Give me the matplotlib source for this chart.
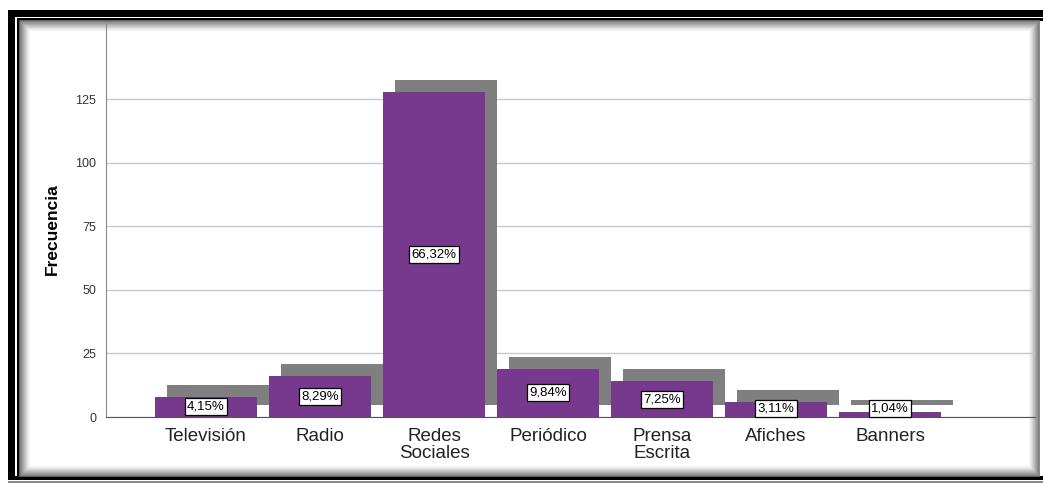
import numpy as np
import matplotlib
matplotlib.use("Agg")
import matplotlib.pyplot as plt
from matplotlib.patches import Rectangle

plt.rcParams["font.family"] = ["Liberation Sans", "DejaVu Sans"]

categories = ["Televisión", "Radio", "Redes\nSociales", "Periódico",
              "Prensa\nEscrita", "Afiches", "Banners"]
frecuencia = [8, 16, 128, 19, 14, 6, 2]
porcentajes = ["4,15%", "8,29%", "66,32%", "9,84%", "7,25%", "3,11%", "1,04%"]
yticks = [0, 25, 50, 75, 100, 125]

PURPLE = "#76398d"
SHADOW = "#7f7f7f"
W, H = 1043, 483

fig = plt.figure(figsize=(W / 100, H / 100), dpi=100)
fig.patch.set_facecolor("white")

# picture frame (SPSS output look) drawn in pixel coords on an overlay axes
bg = fig.add_axes([0, 0, 1, 1], zorder=-1)
bg.set_xlim(0, W)
bg.set_ylim(H, 0)
bg.axis("off")
bg.add_patch(Rectangle((8, 10), W - 8, 7, color="black", lw=0))
bg.add_patch(Rectangle((8, 10), 7, 470, color="black", lw=0))
bg.add_patch(Rectangle((17, 18), W - 17, 2.5, color="black", lw=0))
bg.add_patch(Rectangle((17, 18), 2.5, 460, color="black", lw=0))
bg.add_patch(Rectangle((8, 476), W - 8, 4, color="black", lw=0))
bg.add_patch(Rectangle((8, 481), W - 8, 2, color="#888888", lw=0))
for i in range(10):
    g = 0.45 + 0.055 * i
    bg.add_patch(Rectangle((20 + i, 21 + i), W - 24 - 2 * i, 455 - 2 * i,
                           fill=False, ec=(g, g, g), lw=1.2))

ax = fig.add_axes([106 / W, 1 - 417 / H, (1035 - 106) / W, (417 - 23) / H])
x = np.arange(len(categories))
bw = 0.9
dx, dy = 0.105, 4.7

ax.bar(x + dx, frecuencia, width=bw, bottom=dy, color=SHADOW, lw=0, zorder=2)
ax.bar(x, frecuencia, width=bw, color=PURPLE, lw=0, zorder=3)

for xi, v, p in zip(x, frecuencia, porcentajes):
    ax.text(xi, max(v / 2, 3.2), p, ha="center", va="center", fontsize=9.5,
            zorder=5,
            bbox=dict(boxstyle="square,pad=0.18", fc="white", ec="black", lw=0.9))

ax.set_xlim(-0.877, 7.27)
ax.set_ylim(0, 155)
ax.set_yticks(yticks)
ax.set_xticks(x)
ax.set_xticklabels(categories, fontsize=13.5, color="#222222", linespacing=1.0)
ax.tick_params(axis="x", length=0, pad=8)
ax.tick_params(axis="y", length=0, pad=7, labelsize=9, labelcolor="#333333")
ax.yaxis.grid(True, color="#c8c8c8", lw=1, zorder=0)
ax.set_axisbelow(True)
for s in ["top", "right"]:
    ax.spines[s].set_visible(False)
ax.spines["left"].set_color("#8a8a8a")
ax.spines["bottom"].set_color("#555555")
ax.set_ylabel("Frecuencia", fontsize=12.5, fontweight="bold")
ax.yaxis.set_label_coords(-0.05, 0.477)
ax.set_facecolor("none")

fig.savefig("out.png", dpi=100)
